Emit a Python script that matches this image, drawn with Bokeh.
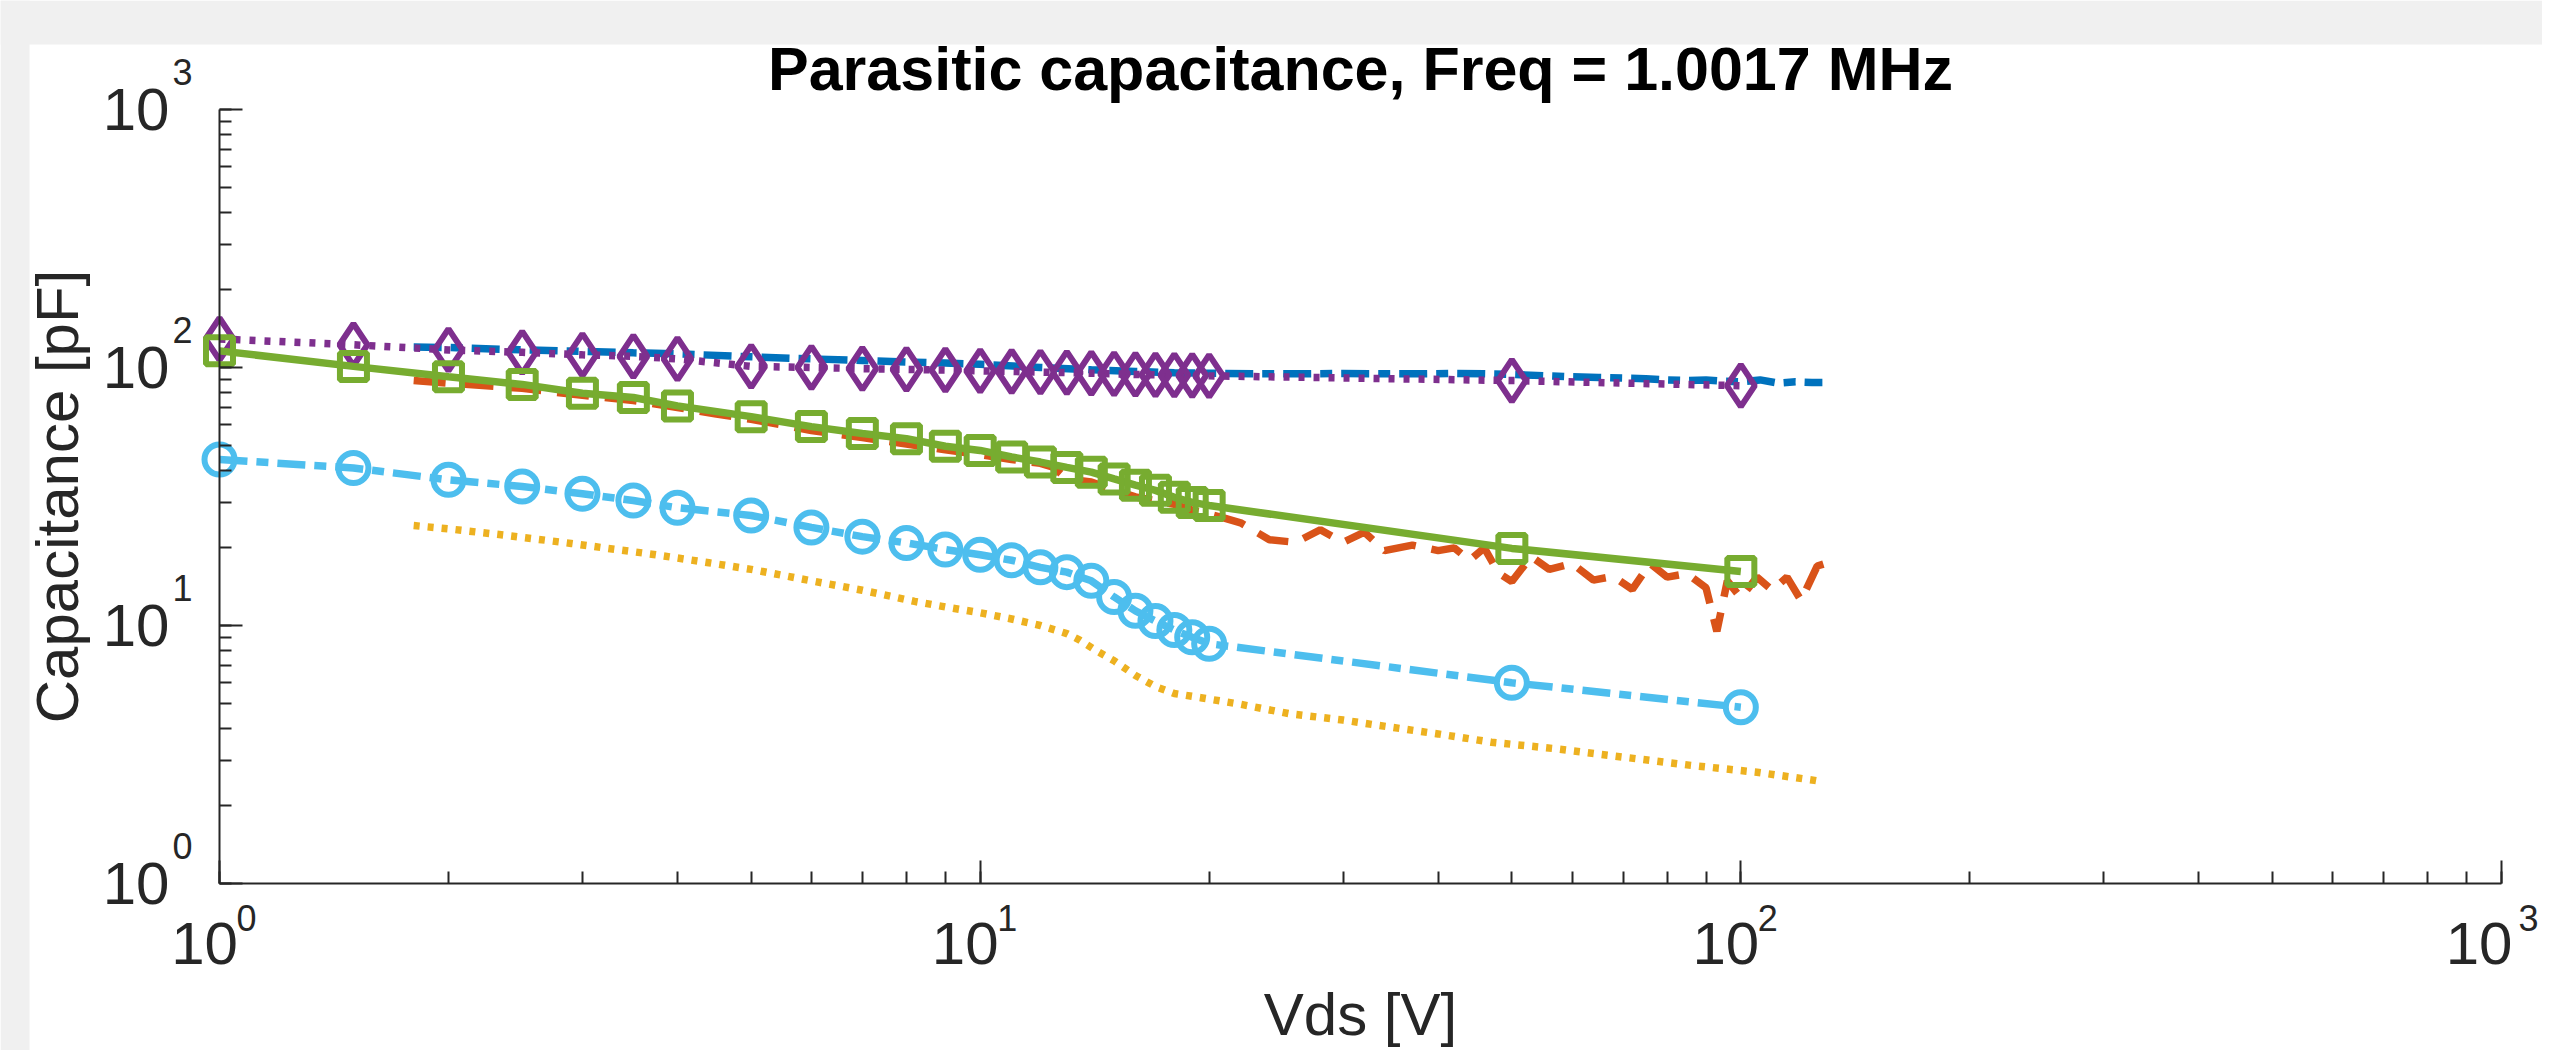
import math
from bokeh.plotting import figure
from bokeh.models import Range1d, Label, BoxAnnotation
from bokeh.embed import file_html
from bokeh.resources import INLINE

# ---------------- data ----------------
vds_markers = [1, 1.5, 2, 2.5, 3, 3.5, 4, 5, 6, 7, 8, 9, 10, 11, 12, 13, 14, 15, 16, 17, 18, 19, 20, 50, 100]
purple_c = [129, 122.5, 117, 114.5, 112, 110.5, 108, 101, 100, 99, 98.3, 97.8, 97, 96.5, 96, 95.5, 95, 94.5,
            94, 93.7, 93.4, 93.1, 92.8, 89, 85]
green_c = [116, 101, 92, 86, 79.5, 76.5, 71, 64.5, 59, 55.5, 53, 49.5, 47.7, 45, 43, 41, 39.3, 37, 35, 33.4,
           31.4, 30, 29.2, 19.9, 16.2]
cyan_c = [44, 40.8, 36.7, 34.6, 32.4, 30.5, 28.6, 26.7, 24, 22.1, 20.9, 19.7, 18.8, 17.9, 16.8, 16.1, 14.9,
          12.9, 11.4, 10.4, 9.6, 9.0, 8.5, 6.0, 4.82]

blue_v = [1.8, 2, 2.5, 3, 3.5, 4, 5, 6, 7, 8, 9, 10, 12, 14, 16, 18, 20, 23, 26, 30, 34, 38, 42, 46, 50, 55,
          60, 65, 70, 75, 80, 85, 90, 95, 100, 106, 112, 118, 124, 128]
blue_c = [120, 119.5, 117, 115.5, 114, 113, 110, 108, 106.5, 105, 104, 103, 100, 98, 96.5, 95.5, 95, 94.5,
          94.5, 94.8, 94.5, 94.5, 94.8, 94.5, 94, 93, 92, 91.5, 91, 90.5, 89.5, 89, 89.5, 88.5, 88, 89.5, 87,
          88, 87.5, 87.5]

orange_v = [1.8, 2, 2.5, 3, 3.5, 4, 4.5, 5, 6, 7, 8, 9, 10, 11, 12, 12.5, 13, 14, 15, 16, 17, 18, 19, 20, 21,
            22, 24, 26, 28, 30, 32, 34, 37, 40, 42, 44, 46, 48, 50, 53, 56, 60, 64, 68, 72, 76, 80, 85, 90, 93,
            96, 100, 105, 110, 115, 120, 126, 130]
orange_c = [89, 87, 83, 78, 74.5, 70, 66, 63, 57, 53.5, 50.5, 48, 46, 44, 42.5, 41, 37, 36, 33.5, 31.5, 30.5,
            29.5, 28, 27, 26, 25, 21.5, 21, 23.5, 21, 23, 19.5, 20.5, 19.5, 20, 17.9, 20, 16, 14.8, 18.5, 16.5,
            17.4, 15, 15.5, 13.8, 17.4, 15.4, 15.9, 14, 9.5, 14.9, 12.8, 15.4, 13.7, 15.4, 12.5, 17, 17.5]

yellow_v = [1.8, 2, 2.4, 2.9, 3.2, 3.7, 4.4, 5, 6, 7, 8.2, 9, 10, 11, 12, 13, 13.5, 14.2, 15, 16, 17, 18,
            19.5, 22, 25.5, 30, 33.4, 40, 47, 57, 70, 86, 105, 125, 128]
yellow_c = [24.4, 23.7, 22.3, 20.8, 20.0, 18.9, 17.5, 16.5, 14.9, 13.7, 12.4, 11.8, 11.2, 10.6, 10.0, 9.3,
            8.8, 8.0, 7.3, 6.4, 5.8, 5.45, 5.25, 4.95, 4.55, 4.3, 4.1, 3.8, 3.53, 3.33, 3.09, 2.87, 2.70, 2.51,
            2.48]

tick_values = [1, 10, 100, 1000]
tick_exponents = ["0", "1", "2", "3"]

TITLE = "Parasitic capacitance, Freq = 1.0017 MHz"
XLABEL = "Vds [V]"
YLABEL = "Capacitance [pF]"

X_LO, X_HI = 1, 1000
Y_LO, Y_HI = 1, 1000

# ---------------- layout (pixels) ----------------
FIG_W, FIG_H = 2542, 1050
AX_L, AX_B = 219, 167          # distance of the axes from the canvas left / bottom edge
AX_W, AX_H = 2282, 774         # axes box size
WIN_L, WIN_T = 29, 44          # grey window frame widths (left, top)
XDEC = AX_W / math.log10(X_HI / X_LO)
YDEC = AX_H / math.log10(Y_HI / Y_LO)


def xs(v, dpx):
    return v * 10 ** (dpx / XDEC)


def ys(v, dpx):
    return v * 10 ** (dpx / YDEC)


C_BLUE = "#0072BD"
C_ORANGE = "#D95319"
C_YELLOW = "#EDB120"
C_PURPLE = "#7E2F8E"
C_GREEN = "#77AC30"
C_CYAN = "#4DBEEE"
AX = "#262626"
GREY = "#f0f0f0"
FONT = "Liberation Sans"

p = figure(width=FIG_W, height=FIG_H, x_axis_type="log", y_axis_type="log",
           x_range=Range1d(xs(X_LO, -AX_L), xs(X_LO, FIG_W - AX_L)),
           y_range=Range1d(ys(Y_LO, -AX_B), ys(Y_LO, FIG_H - AX_B)),
           output_backend="svg", toolbar_location=None,
           min_border=0, min_border_left=0, min_border_right=0, min_border_top=0, min_border_bottom=0)
p.outline_line_color = None
p.xgrid.visible = False
p.ygrid.visible = False
p.background_fill_color = "white"
p.border_fill_color = "white"

# grey window frame around the white figure area
p.add_layout(BoxAnnotation(right=xs(X_LO, WIN_L - AX_L), fill_color=GREY, fill_alpha=1.0,
                           line_color=None, level="underlay"))
p.add_layout(BoxAnnotation(bottom=ys(Y_LO, FIG_H - AX_B - WIN_T), fill_color=GREY, fill_alpha=1.0,
                           line_color=None, level="underlay"))

p.xaxis.fixed_location = Y_LO
p.yaxis.fixed_location = X_LO
p.xaxis.bounds = (X_LO, X_HI)
p.yaxis.bounds = (Y_LO, Y_HI)

for ax in (p.xaxis[0], p.yaxis[0]):
    ax.axis_line_color = AX
    ax.axis_line_width = 2
    ax.major_tick_line_color = AX
    ax.minor_tick_line_color = AX
    ax.major_tick_line_width = 2
    ax.minor_tick_line_width = 2
    ax.major_tick_in = 23
    ax.major_tick_out = 0
    ax.minor_tick_in = 12
    ax.minor_tick_out = 0
    ax.major_label_text_font = FONT
    ax.major_label_text_font_size = "60px"
    ax.major_label_text_color = AX

# tick labels: mantissa on the axis, exponent as a superscript label
mant = {t: "10\u2002" for t in tick_values}
p.xaxis.major_label_overrides = mant
p.yaxis.major_label_overrides = mant
p.xaxis.major_label_standoff = 26
p.yaxis.major_label_standoff = 20

for t, e in zip(tick_values, tick_exponents):
    p.add_layout(Label(x=xs(t, 17), y=ys(Y_LO, -21), text=e,
                       text_align="left", text_baseline="top",
                       text_font=FONT, text_font_size="36px", text_color=AX))
    p.add_layout(Label(x=xs(X_LO, -47), y=ys(t, 38), text=e,
                       text_align="left", text_baseline="middle",
                       text_font=FONT, text_font_size="36px", text_color=AX))

x_mid = math.sqrt(X_LO * X_HI)
y_mid = math.sqrt(Y_LO * Y_HI)
p.add_layout(Label(x=x_mid, y=ys(Y_HI, 41), text=TITLE, text_align="center",
                   text_baseline="alphabetic", text_font=FONT, text_font_size="61px",
                   text_font_style="bold", text_color="black"))
p.add_layout(Label(x=x_mid, y=ys(Y_LO, -131), text=XLABEL, text_align="center",
                   text_baseline="alphabetic", text_font=FONT, text_font_size="60px",
                   text_color=AX))
p.add_layout(Label(x=xs(X_LO, -162), y=y_mid, text=YLABEL, angle=math.pi / 2,
                   text_align="center", text_baseline="alphabetic", text_font=FONT,
                   text_font_size="60px", text_color=AX))

LW = 7.5
MLW = 6

# plotting order follows the MATLAB colour order
p.line(blue_v, blue_c, line_color=C_BLUE, line_width=LW, line_dash="28 9 12 9")
p.line(orange_v, orange_c, line_color=C_ORANGE, line_width=LW, line_dash="32 16")
p.line(yellow_v, yellow_c, line_color=C_YELLOW, line_width=LW, line_dash="6 8")

p.line(vds_markers, purple_c, line_color=C_PURPLE, line_width=LW, line_dash="6 9")
p.scatter(vds_markers, purple_c, marker="diamond", size=42, fill_color=None,
          line_color=C_PURPLE, line_width=MLW)

p.line(vds_markers, green_c, line_color=C_GREEN, line_width=LW)
p.scatter(vds_markers, green_c, marker="square", size=27, fill_color=None,
          line_color=C_GREEN, line_width=MLW)

p.line(vds_markers, cyan_c, line_color=C_CYAN, line_width=LW, line_dash="28 9 12 9")
p.scatter(vds_markers, cyan_c, marker="circle", size=30, fill_color=None,
          line_color=C_CYAN, line_width=MLW)

open("out.html", "w").write(file_html(p, INLINE))
